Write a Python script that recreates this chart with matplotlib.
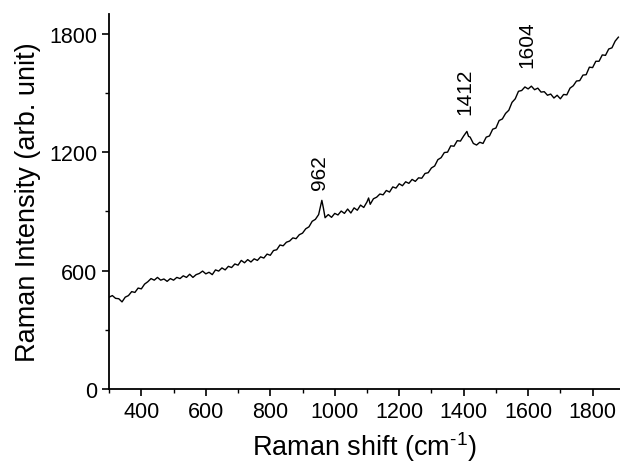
import matplotlib
matplotlib.use("Agg")
import matplotlib.pyplot as plt
from matplotlib.ticker import MultipleLocator

plt.rcParams['font.family'] = ['Liberation Sans', 'DejaVu Sans']
plt.rcParams['mathtext.fontset'] = 'custom'
plt.rcParams['mathtext.rm'] = 'Liberation Sans'
plt.rcParams['mathtext.it'] = 'Liberation Sans'

# Raman shift (cm-1)
shift = [300, 310, 320, 330, 340, 350, 360, 370, 380, 390,
         400, 410, 420, 430, 440, 450, 460, 470, 480, 490,
         500, 510, 520, 530, 540, 550, 560, 570, 580, 590,
         600, 610, 620, 630, 640, 650, 660, 670, 680, 690,
         700, 710, 720, 730, 740, 750, 760, 770, 780, 790,
         800, 810, 820, 830, 840, 850, 860, 870, 880, 890,
         900, 910, 920, 930, 940, 950, 955, 960, 965, 970,
         980, 990, 1000, 1010, 1020, 1030, 1040, 1050, 1060, 1070,
         1080, 1090, 1100, 1105, 1110, 1120, 1130, 1140, 1150, 1160,
         1170, 1180, 1190, 1200, 1210, 1220, 1230, 1240, 1250, 1260,
         1270, 1280, 1290, 1300, 1310, 1320, 1330, 1340, 1350, 1360,
         1370, 1380, 1390, 1400, 1410, 1415, 1420, 1430, 1440, 1450,
         1460, 1470, 1480, 1490, 1500, 1510, 1520, 1530, 1540, 1550,
         1560, 1570, 1580, 1590, 1600, 1610, 1620, 1630, 1640, 1650,
         1660, 1670, 1680, 1690, 1700, 1710, 1720, 1730, 1740, 1750,
         1760, 1770, 1780, 1790, 1800, 1810, 1820, 1830, 1840, 1850,
         1860, 1870, 1880]

# intensity (arb. unit)
intensity = [466, 474, 460, 458, 442, 466, 474, 494, 490, 512,
             508, 532, 544, 560, 552, 566, 552, 558, 546, 560,
             552, 566, 560, 574, 566, 582, 566, 580, 586, 598,
             584, 592, 580, 604, 598, 614, 604, 622, 616, 634,
             628, 652, 640, 656, 644, 660, 652, 670, 664, 684,
             678, 702, 706, 730, 726, 744, 750, 766, 762, 782,
             790, 812, 822, 850, 860, 884, 920, 956, 915, 868,
             884, 870, 890, 882, 902, 890, 912, 892, 918, 906,
             932, 920, 948, 968, 936, 964, 972, 988, 984, 1006,
             998, 1024, 1018, 1040, 1030, 1050, 1042, 1062, 1052, 1070,
             1068, 1092, 1096, 1120, 1130, 1162, 1172, 1198, 1200, 1232,
             1230, 1258, 1256, 1282, 1305, 1280, 1276, 1244, 1236, 1250,
             1244, 1276, 1282, 1316, 1322, 1360, 1368, 1396, 1412, 1452,
             1470, 1508, 1512, 1530, 1520, 1534, 1516, 1524, 1504, 1506,
             1488, 1494, 1474, 1488, 1470, 1492, 1490, 1524, 1536, 1560,
             1562, 1590, 1592, 1630, 1628, 1660, 1660, 1692, 1690, 1722,
             1728, 1762, 1782]

peak_pos = [962, 1412, 1604]
peak_labels = ['962', '1412', '1604']
label_height = [1015, 1395, 1632]

fig = plt.figure(figsize=(6.2, 4.64), dpi=100)
ax = fig.add_axes([0.176, 0.159, 0.824, 0.809])

ax.plot(shift, intensity, color='black', linewidth=1.0)

# peak labels, rotated like the original
for pos, lab, h in zip(peak_pos, peak_labels, label_height):
    ax.text(pos - 8, h, lab, rotation=90, ha='center', va='bottom', fontsize=15)

ax.set_xlim(300, 1885)
ax.set_ylim(0, 1900)
ax.xaxis.set_major_locator(MultipleLocator(200))
ax.xaxis.set_minor_locator(MultipleLocator(100))
ax.yaxis.set_major_locator(MultipleLocator(600))
ax.yaxis.set_minor_locator(MultipleLocator(300))

ax.spines['top'].set_visible(False)
ax.spines['right'].set_visible(False)
ax.spines['left'].set_linewidth(1.3)
ax.spines['bottom'].set_linewidth(1.3)
ax.tick_params(which='major', direction='out', length=5, width=1.2, labelsize=15.5)
ax.tick_params(which='minor', direction='out', length=3, width=1.0)

ax.set_xlabel(r'Raman shift (cm$^{\text{-}1}$)', fontsize=19.5, labelpad=5)
ax.set_ylabel('Raman Intensity (arb. unit)', fontsize=19.5, labelpad=6)

plt.savefig('out.png', dpi=100)
